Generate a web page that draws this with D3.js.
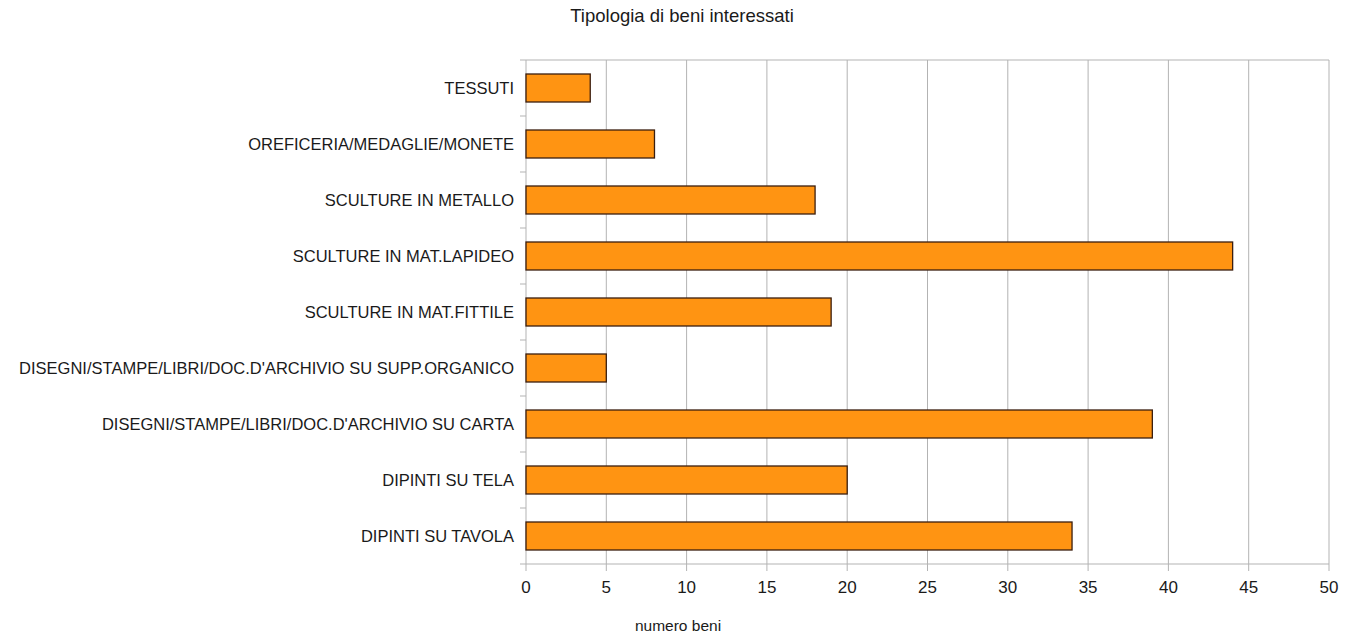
<!DOCTYPE html>
<html>
<head>
<meta charset="utf-8">
<script src="https://cdn.jsdelivr.net/npm/d3@7"></script>
<style>
  body { margin: 0; background: #fff; }
  text { font-family: "Liberation Sans", Arial, sans-serif; fill: #1a1a1a; }
</style>
</head>
<body>
<div id="container"></div>
<script>
/* CONSTANTS AND GLOBALS */
const width = 1361,
    height = 634,
    margin = { top: 60, right: 32, bottom: 70, left: 526 };

// DATA (top to bottom)
const categories = [
    "TESSUTI",
    "OREFICERIA/MEDAGLIE/MONETE",
    "SCULTURE IN METALLO",
    "SCULTURE IN MAT.LAPIDEO",
    "SCULTURE IN MAT.FITTILE",
    "DISEGNI/STAMPE/LIBRI/DOC.D'ARCHIVIO SU SUPP.ORGANICO",
    "DISEGNI/STAMPE/LIBRI/DOC.D'ARCHIVIO SU CARTA",
    "DIPINTI SU TELA",
    "DIPINTI SU TAVOLA"
];
const values = [4, 8, 18, 44, 19, 5, 39, 20, 34];
const xTicks = [0, 5, 10, 15, 20, 25, 30, 35, 40, 45, 50];

const data = categories.map((c, i) => ({ cat: c, val: values[i] }));

const svg = d3.select("#container")
    .append("svg")
    .attr("width", width)
    .attr("height", height);

const innerW = 1329 - margin.left,
    innerH = 564 - margin.top;

// SCALES
const xScale = d3.scaleLinear()
    .domain([0, 50])
    .range([margin.left, margin.left + innerW]);

const yScale = d3.scaleBand()
    .domain(categories)
    .range([margin.top, margin.top + innerH])
    .paddingInner(0.5)
    .paddingOuter(0.25);

// GRID
svg.append("g")
    .selectAll("line")
    .data(xTicks)
    .join("line")
    .attr("x1", d => xScale(d))
    .attr("x2", d => xScale(d))
    .attr("y1", margin.top)
    .attr("y2", margin.top + innerH + 7)
    .attr("stroke", "#b3b3b3")
    .attr("stroke-width", 1);

// top border
svg.append("line")
    .attr("x1", xScale(0))
    .attr("x2", xScale(50))
    .attr("y1", margin.top)
    .attr("y2", margin.top)
    .attr("stroke", "#b3b3b3");

// bottom axis line
svg.append("line")
    .attr("x1", xScale(0))
    .attr("x2", xScale(50))
    .attr("y1", margin.top + innerH)
    .attr("y2", margin.top + innerH)
    .attr("stroke", "#b3b3b3");

// left ticks at band boundaries
const step = innerH / categories.length;
svg.append("g")
    .selectAll("line")
    .data(d3.range(categories.length + 1))
    .join("line")
    .attr("x1", xScale(0) - 6)
    .attr("x2", xScale(0))
    .attr("y1", d => margin.top + d * step)
    .attr("y2", d => margin.top + d * step)
    .attr("stroke", "#b3b3b3");

// BARS
svg.append("g")
    .selectAll("rect")
    .data(data)
    .join("rect")
    .attr("x", xScale(0))
    .attr("y", d => yScale(d.cat))
    .attr("width", d => xScale(d.val) - xScale(0))
    .attr("height", yScale.bandwidth())
    .attr("fill", "#ff9412")
    .attr("stroke", "#3b1e0e")
    .attr("stroke-width", 1.3);

// CATEGORY LABELS
svg.append("g")
    .selectAll("text")
    .data(categories)
    .join("text")
    .attr("x", xScale(0) - 12)
    .attr("y", d => yScale(d) + yScale.bandwidth() / 2)
    .attr("dy", "0.36em")
    .attr("text-anchor", "end")
    .style("font-size", "16.5px")
    .text(d => d);

// X TICK LABELS
svg.append("g")
    .selectAll("text")
    .data(xTicks)
    .join("text")
    .attr("x", d => xScale(d))
    .attr("y", 593)
    .attr("text-anchor", "middle")
    .style("font-size", "17px")
    .text(d => d);

// TITLE
svg.append("text")
    .attr("x", 682)
    .attr("y", 22)
    .attr("text-anchor", "middle")
    .style("font-size", "18.5px")
    .text("Tipologia di beni interessati");

// AXIS TITLE
svg.append("text")
    .attr("x", 678)
    .attr("y", 631)
    .attr("text-anchor", "middle")
    .style("font-size", "15.5px")
    .text("numero beni");
</script>
</body>
</html>
